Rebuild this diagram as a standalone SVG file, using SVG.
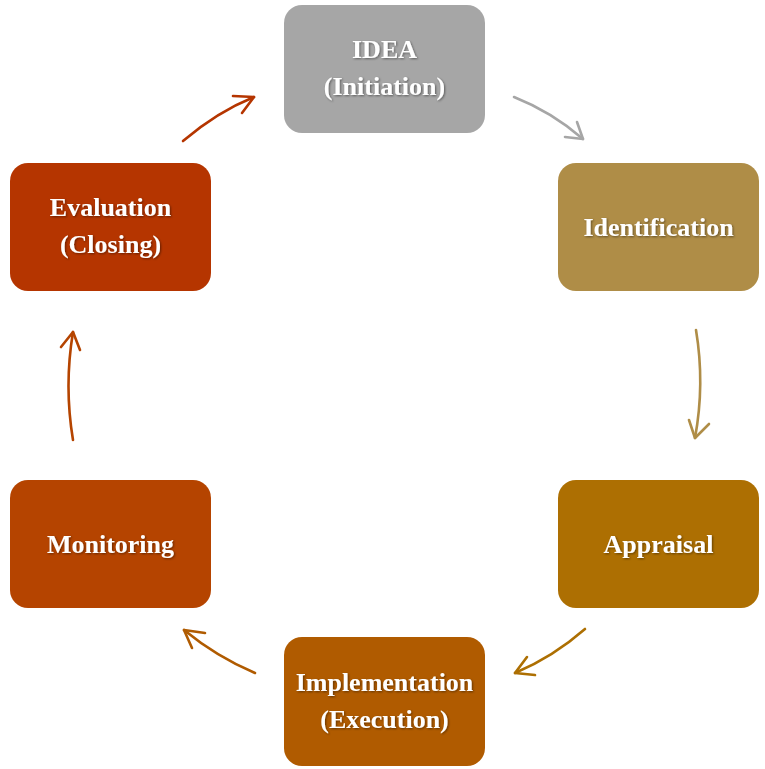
<svg xmlns="http://www.w3.org/2000/svg" width="765" height="769" viewBox="0 0 765 769">
<defs>
<filter id="ts" x="-10%" y="-30%" width="120%" height="160%">
<feDropShadow dx="1" dy="1" stdDeviation="0.8" flood-color="#000" flood-opacity="0.45"/>
</filter>
</defs>
<style>
.box{stroke:none}
.lbl{font-family:"Liberation Serif","Times New Roman",serif;font-weight:bold;font-size:26px;fill:#fff;text-anchor:middle;filter:url(#ts)}
.arr{fill:none;stroke-width:2.6;stroke-linecap:round;stroke-linejoin:round}
</style>
<rect width="765" height="769" fill="#fff"/>
<g id="connectors">
<g class="arr" stroke="#A6A6A6">
<path d="M514,97 Q552,112 583,139"/>
<path d="M577,122 L583,139 L565,137"/>
</g>
<g class="arr" stroke="#AF8D47">
<path d="M696,330 Q705,384 695,438"/>
<path d="M689,420 L695,438 L709,424"/>
</g>
<g class="arr" stroke="#AD6F02">
<path d="M585,629 Q553,657 515,673"/>
<path d="M527,657 L515,673 L535,675"/>
</g>
<g class="arr" stroke="#B05B00">
<path d="M255,673 Q217,657 184,630"/>
<path d="M205,633 L184,630 L192,648"/>
</g>
<g class="arr" stroke="#B54400">
<path d="M73,440 Q64,386 73,332"/>
<path d="M61,347 L73,332 L80,350"/>
</g>
<g class="arr" stroke="#B53500">
<path d="M183,141 Q217,112 254,97"/>
<path d="M233,96 L254,97 L242,113"/>
</g>
</g>
<g id="node-idea">
<rect class="box" x="284" y="5" width="201" height="128" rx="18" fill="#A6A6A6"/>
<text class="lbl" x="384.5" y="58">IDEA</text>
<text class="lbl" x="384.5" y="95">(Initiation)</text>
</g>
<g id="node-identification">
<rect class="box" x="558" y="163" width="201" height="128" rx="18" fill="#AF8D47"/>
<text class="lbl" x="658.5" y="236">Identification</text>
</g>
<g id="node-appraisal">
<rect class="box" x="558" y="480" width="201" height="128" rx="18" fill="#AD6F02"/>
<text class="lbl" x="658.5" y="553">Appraisal</text>
</g>
<g id="node-implementation">
<rect class="box" x="284" y="637" width="201" height="129" rx="18" fill="#B05B00"/>
<text class="lbl" x="384.5" y="691">Implementation</text>
<text class="lbl" x="384.5" y="728">(Execution)</text>
</g>
<g id="node-monitoring">
<rect class="box" x="10" y="480" width="201" height="128" rx="18" fill="#B54400"/>
<text class="lbl" x="110.5" y="553">Monitoring</text>
</g>
<g id="node-evaluation">
<rect class="box" x="10" y="163" width="201" height="128" rx="18" fill="#B53500"/>
<text class="lbl" x="110.5" y="216">Evaluation</text>
<text class="lbl" x="110.5" y="253">(Closing)</text>
</g>
</svg>
